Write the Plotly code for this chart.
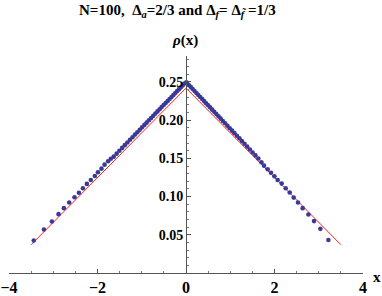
import plotly.graph_objects as go

# numerical density points (N=100)
pts_x = [-3.44, -3.21, -3.03, -2.88, -2.76, -2.64, -2.52, -2.42, -2.33, -2.24,
         -2.15, -2.06, -1.99, -1.91, -1.84, -1.76, -1.70, -1.633, -1.568, -1.505,
         -1.443, -1.383, -1.324, -1.266, -1.209, -1.153, -1.099, -1.045, -0.993, -0.940,
         -0.889, -0.838, -0.789, -0.740, -0.692, -0.644, -0.597, -0.551, -0.505, -0.460,
         -0.415, -0.371, -0.327, -0.284, -0.241, -0.199, -0.157, -0.116, -0.075, -0.034,
         0.008, 0.028, 0.069, 0.110, 0.151, 0.193, 0.235, 0.278, 0.321, 0.365,
         0.409, 0.454, 0.499, 0.545, 0.591, 0.638, 0.686, 0.735, 0.784, 0.833,
         0.884, 0.936, 0.988, 1.041, 1.095, 1.150, 1.207, 1.264, 1.322, 1.382,
         1.444, 1.506, 1.570, 1.636, 1.704, 1.763, 1.846, 1.921, 1.998, 2.072,
         2.163, 2.253, 2.344, 2.434, 2.531, 2.637, 2.766, 2.893, 3.037, 3.218]
pts_y = [0.0426, 0.0569, 0.0674, 0.0770, 0.0849, 0.0922, 0.0992, 0.1050, 0.1110, 0.1166,
         0.1218, 0.1270, 0.1319, 0.1366, 0.1418, 0.1462, 0.1496, 0.1523, 0.1562, 0.1600,
         0.1637, 0.1673, 0.1708, 0.1743, 0.1777, 0.1811, 0.1843, 0.1875, 0.1906, 0.1938,
         0.1968, 0.1999, 0.2028, 0.2057, 0.2086, 0.2115, 0.2143, 0.2171, 0.2198, 0.2225,
         0.2252, 0.2278, 0.2304, 0.2330, 0.2356, 0.2381, 0.2406, 0.2431, 0.2455, 0.2480,
         0.2495, 0.2483, 0.2458, 0.2433, 0.2408, 0.2382, 0.2356, 0.2330, 0.2303, 0.2277,
         0.2250, 0.2222, 0.2195, 0.2167, 0.2138, 0.2109, 0.2080, 0.2050, 0.2020, 0.1990,
         0.1959, 0.1927, 0.1895, 0.1863, 0.1830, 0.1796, 0.1762, 0.1726, 0.1691, 0.1654,
         0.1617, 0.1578, 0.1539, 0.1499, 0.1449, 0.1405, 0.1358, 0.1313, 0.1266, 0.1218,
         0.1170, 0.1110, 0.1053, 0.0987, 0.0922, 0.0849, 0.0765, 0.0679, 0.0578, 0.0431]

# analytic triangle density
line_x = [-3.5, 0.0, 3.5]
line_y = [0.037, 0.242, 0.037]

x_ticks = [-4, -2, 0, 2, 4]
x_tick_labels = ["<b>−4</b>", "<b>−2</b>", "<b>0</b>", "<b>2</b>", "<b>4</b>"]
y_ticks = [0.05, 0.10, 0.15, 0.20, 0.25]
y_tick_labels = ["<b>0.05</b>", "<b>0.10</b>", "<b>0.15</b>", "<b>0.20</b>", "<b>0.25</b>"]

FONT = "Liberation Serif"

fig = go.Figure()
fig.add_trace(go.Scatter(x=line_x, y=line_y, mode="lines",
                         line=dict(color="#ff2020", width=1), hoverinfo="skip"))
fig.add_trace(go.Scatter(x=pts_x, y=pts_y, mode="markers",
                         marker=dict(color="rgb(58,58,150)", size=4.6, line=dict(width=0))))

fig.update_layout(
    width=382, height=296,
    margin=dict(l=9, r=19, t=56, b=23),
    paper_bgcolor="white", plot_bgcolor="white",
    showlegend=False,
    font=dict(family=FONT, size=12, color="black"),
    xaxis=dict(range=[-4, 4], tickvals=x_ticks, ticktext=x_tick_labels,
               ticks="inside", ticklen=4, automargin=False, ticklabelstandoff=0,
               tickcolor="#555", showline=True, linecolor="#555", linewidth=1,
               showgrid=False, zeroline=False,
               tickfont=dict(family=FONT, size=16, color="black"),
               minor=dict(dtick=0.5, tick0=0, ticks="inside", ticklen=2, tickcolor="#777")),
    yaxis=dict(range=[0, 0.284], tickvals=y_ticks, ticktext=y_tick_labels,
               anchor="free", position=0.5, side="left", automargin=False,
               ticks="inside", ticklen=4, tickcolor="#555",
               showline=True, linecolor="#555", linewidth=1,
               showgrid=False, zeroline=False,
               tickfont=dict(family=FONT, size=14, color="black"),
               minor=dict(dtick=0.01, tick0=0, ticks="inside", ticklen=2, tickcolor="#777")),
    annotations=[
        dict(text="<b>N=100,  Δ<sub><i>a</i></sub>=2/3 and Δ<sub><i>f</i></sub>= Δ<sub><i>f̃</i></sub> =1/3</b>",
             xref="paper", yref="paper", x=0.192, y=1.207, xanchor="left", yanchor="middle",
             showarrow=False, font=dict(family=FONT, size=15, color="black")),
        dict(text="<b><i>ρ</i>(x)</b>", xref="paper", yref="paper", x=0.497, y=1.07,
             xanchor="center", yanchor="middle", showarrow=False,
             font=dict(family=FONT, size=15, color="black")),
        dict(text="<b>x</b>", xref="paper", yref="paper", x=1.039, y=-0.017,
             xanchor="center", yanchor="middle", showarrow=False,
             font=dict(family=FONT, size=15, color="black")),
    ],
)

fig.write_html("out.html", config={"displayModeBar": False},
               post_script="document.body.style.margin='0';")
